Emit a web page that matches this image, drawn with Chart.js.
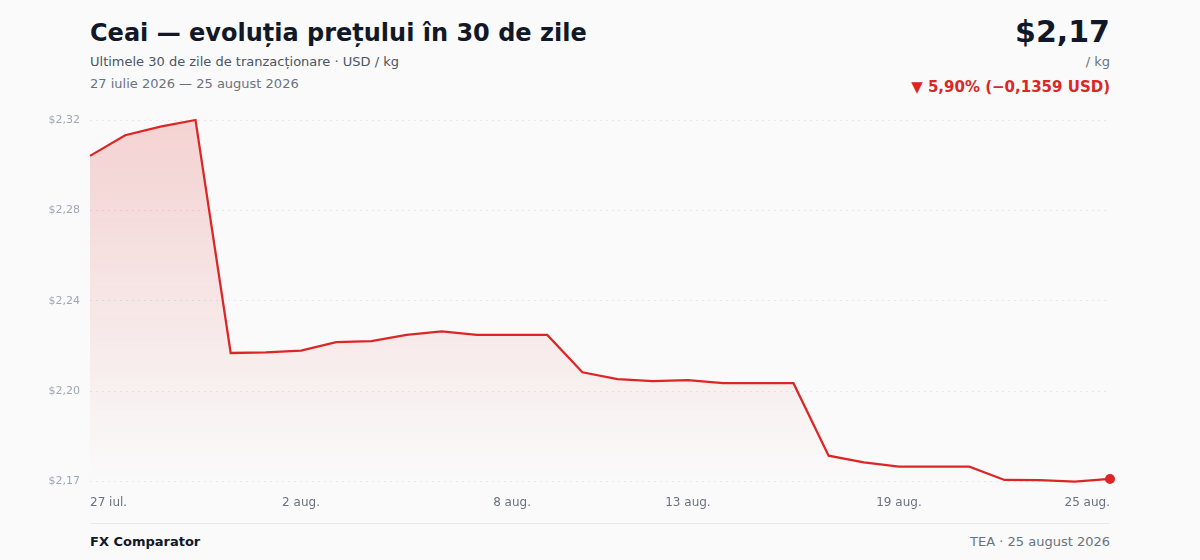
<!DOCTYPE html>
<html lang="ro">
<head>
<meta charset="utf-8">
<title>Ceai — evoluția prețului în 30 de zile</title>
<script src="https://cdn.jsdelivr.net/npm/chart.js@4.4.1/dist/chart.umd.min.js"></script>
<style>
  html, body { margin: 0; padding: 0; }
  body {
    width: 1200px; height: 560px; overflow: hidden;
    background: #fafafa;
    font-family: "DejaVu Sans", sans-serif;
    position: relative;
  }
  .t { position: absolute; white-space: nowrap; line-height: 1; }
  #title { left: 90px; top: 21px; font-size: 24px; font-weight: bold; color: #111827; }
  #sub { left: 90px; top: 55px; font-size: 13px; color: #4b5563; }
  #range { left: 90px; top: 77px; font-size: 13px; color: #6b7280; }
  #price { right: 90px; top: 17px; font-size: 30px; font-weight: bold; color: #111827; }
  #unit { right: 90px; top: 55px; font-size: 13px; color: #6b7280; }
  #change { right: 90px; top: 80px; font-size: 15px; font-weight: bold; color: #dc2626; }
  #footline { position: absolute; left: 90px; width: 1020px; top: 523px; height: 1px; background: #e8e9ec; }
  #brand { left: 90px; top: 535px; font-size: 13px; font-weight: bold; color: #111827; }
  #src { right: 90px; top: 535px; font-size: 13px; color: #6b7280; }
  #wrap { position: absolute; left: 0; top: 100px; width: 1200px; height: 425px; }
</style>
</head>
<body>
<div class="t" id="title">Ceai — evoluția prețului în 30 de zile</div>
<div class="t" id="sub">Ultimele 30 de zile de tranzacționare · USD / kg</div>
<div class="t" id="range">27 iulie 2026 — 25 august 2026</div>
<div class="t" id="price">$2,17</div>
<div class="t" id="unit">/ kg</div>
<div class="t" id="change">▼ 5,90% (−0,1359 USD)</div>
<div id="wrap"><canvas id="myChart"></canvas></div>
<div id="footline"></div>
<div class="t" id="brand">FX Comparator</div>
<div class="t" id="src">TEA · 25 august 2026</div>

<script>
var days = [
  '27 iul.', '28 iul.', '29 iul.', '30 iul.', '31 iul.',
  '1 aug.', '2 aug.', '3 aug.', '4 aug.', '5 aug.', '6 aug.', '7 aug.', '8 aug.',
  '9 aug.', '10 aug.', '11 aug.', '12 aug.', '13 aug.', '14 aug.', '15 aug.',
  '16 aug.', '17 aug.', '18 aug.', '19 aug.', '20 aug.', '21 aug.', '22 aug.',
  '23 aug.', '24 aug.', '25 aug.'
];
// USD / kg
var prices = [
  2.3034, 2.3121, 2.3157, 2.3185, 2.2205, 2.2208, 2.2215, 2.2251, 2.2255, 2.2281,
  2.2296, 2.2281, 2.2281, 2.2281, 2.2124, 2.2095, 2.2087, 2.2091, 2.2078, 2.2078,
  2.2078, 2.1773, 2.1745, 2.1727, 2.1727, 2.1727, 2.1671, 2.1670, 2.1664, 2.1675
];
var labelCount = 6;

var red = '#dc2626';
var last = prices.length - 1;
var shown = [];
for (var i = 0; i < labelCount; i++) {
  shown.push(Math.round(i * last / (labelCount - 1)));
}

var money = function(v){
  return '$' + v.toFixed(2).replace('.', ',');
};

var ctx = document.getElementById('myChart').getContext('2d');
var myChart = new Chart(ctx, {
  type: 'line',
  data: {
    labels: days,
    datasets: [{
      data: prices,
      borderColor: red,
      borderWidth: 2.25,
      tension: 0,
      fill: 'start',
      backgroundColor: function(c){
        var area = c.chart.chartArea;
        if (!area) return 'rgba(220, 38, 38, 0.15)';
        var g = c.chart.ctx.createLinearGradient(0, area.top, 0, area.bottom);
        g.addColorStop(0, 'rgba(220, 38, 38, 0.19)');
        g.addColorStop(1, 'rgba(220, 38, 38, 0)');
        return g;
      },
      pointRadius: function(c){ return c.dataIndex === last ? 5 : 0; },
      pointHoverRadius: 0,
      pointBackgroundColor: red,
      pointBorderWidth: 0,
      clip: false
    }]
  },
  options: {
    responsive: true,
    maintainAspectRatio: false,
    animation: false,
    layout: { padding: { top: 20, right: 90, bottom: 1, left: 0 } },
    plugins: {
      legend: { display: false },
      tooltip: { enabled: false }
    },
    scales: {
      x: {
        grid: { display: false, drawTicks: false },
        border: { display: false },
        ticks: {
          autoSkip: false,
          maxRotation: 0,
          align: 'inner',
          padding: 14,
          color: '#6b7280',
          font: { family: 'DejaVu Sans', size: 12 },
          callback: function(v, idx){ return shown.indexOf(idx) >= 0 ? days[idx] : ''; }
        }
      },
      y: {
        min: Math.min.apply(null, prices),
        max: Math.max.apply(null, prices),
        afterFit: function(s){ s.width = 90; },
        grid: { color: '#e6e7ea', lineWidth: 1, drawTicks: false },
        border: { display: false, dash: [2, 4] },
        ticks: {
          count: 5,
          padding: 10,
          color: '#a0a7b4',
          font: { family: 'DejaVu Sans', size: 11 },
          callback: function(v){ return money(v); }
        }
      }
    }
  }
});
</script>
</body>
</html>
